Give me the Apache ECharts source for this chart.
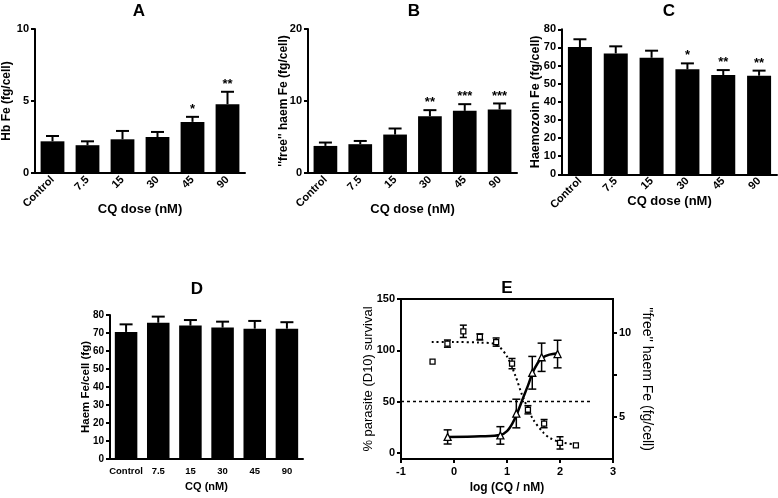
<!DOCTYPE html>
<html><head><meta charset="utf-8">
<script src="https://cdn.jsdelivr.net/npm/echarts@6/dist/echarts.min.js"></script>
<style>html,body{margin:0;padding:0;background:#fff}#c{width:778px;height:498px}</style>
</head><body><div id="c"></div>
<script>
// ---------- data ----------
const doseCategories = ['Control', '7.5', '15', '30', '45', '90'];

// Panel A: Hb Fe (fg/cell)
const hbFe      = [2.2, 1.93, 2.34, 2.5, 3.55, 4.78];
const hbFeErr   = [0.37, 0.27, 0.58, 0.35, 0.35, 0.86];
const hbFeSig   = ['', '', '', '', '*', '**'];

// Panel B: "free" haem Fe (fg/cell)
const freeHaem    = [3.76, 4.0, 5.34, 7.89, 8.63, 8.82];
const freeHaemErr = [0.47, 0.45, 0.84, 0.84, 0.93, 0.84];
const freeHaemSig = ['', '', '', '**', '***', '***'];

// Panel C: Haemozoin Fe (fg/cell)
const haemozoin    = [70.2, 66.7, 64.3, 57.9, 54.8, 54.4];
const haemozoinErr = [4.3, 3.9, 3.9, 3.3, 2.7, 2.8];
const haemozoinSig = ['', '', '', '*', '**', '**'];

// Panel D: Haem Fe/cell (fg)
const totalHaem    = [70.6, 75.7, 74.1, 73.0, 72.4, 72.4];
const totalHaemErr = [4.2, 3.4, 3.1, 3.3, 4.3, 3.6];

// Panel E: parasite survival (left axis)
const survivalLogX = [-0.405, -0.124, 0.176, 0.488, 0.795, 1.095, 1.395, 1.70, 2.0, 2.3];
const survival     = [89, 106.5, 118.5, 113, 108, 87, 42, 28.5, 9.7, 7.2];
const survivalErr  = [0, 3.5, 6, 3, 4, 5, 4, 4, 6, 0];
const survivalFitX = [-0.42, 0.0, 0.5, 0.8, 1.0, 1.16, 1.28, 1.38, 1.5, 1.69, 1.81, 2.0, 2.3];
const survivalFitY = [108, 108, 107.5, 105.5, 94, 75, 57, 45, 32, 19.5, 14.5, 10.5, 8];
const ic50Line     = [[-1, 50], [2.6, 50]];

// Panel E: "free" haem Fe (right axis)
const haemLogX = [-0.12, 0.875, 1.176, 1.477, 1.653, 1.954];
const haemE    = [3.81, 3.9, 5.2, 7.62, 8.54, 8.73];
const haemEErr = [0.42, 0.52, 0.85, 0.97, 0.84, 0.82];
const haemFitX = [-0.12, 0.5, 0.875, 1.0, 1.1, 1.19, 1.3, 1.4, 1.48, 1.58, 1.66, 1.8, 1.96];
const haemFitY = [3.8, 3.85, 3.92, 4.15, 4.6, 5.2, 6.1, 6.9, 7.6, 8.2, 8.5, 8.7, 8.78];

// ---------- chart ----------
const FONT = "'Liberation Sans', Arial, sans-serif";
const chart = echarts.init(document.getElementById('c'), null, {renderer: 'canvas'});

function catAxis(g, labelRotate, fontSize) {
  return {
    type: 'category', gridIndex: g, data: doseCategories,
    axisLine: {lineStyle: {color: '#000', width: 2}},
    axisTick: {show: false},
    axisLabel: {interval: 0, rotate: labelRotate, margin: labelRotate ? 5 : 7, color: '#000',
      fontWeight: 'bold', fontSize: fontSize, fontFamily: FONT},
    splitLine: {show: false}
  };
}
function valAxis(g, max, interval, name, nameGap, nameSize, labelSize) {
  return {
    type: 'value', gridIndex: g, min: 0, max: max, interval: interval,
    name: name, nameLocation: 'middle', nameGap: nameGap, nameMoveOverlap: false,
    nameTextStyle: {color: '#000', fontWeight: 'bold', fontSize: nameSize, fontFamily: FONT},
    axisLine: {show: true, lineStyle: {color: '#000', width: 2}},
    axisTick: {show: true, length: 4, lineStyle: {color: '#000', width: 2}},
    axisLabel: {margin: 6, color: '#000', fontWeight: 'bold', fontSize: labelSize, fontFamily: FONT},
    splitLine: {show: false}
  };
}
function xName(name, gap, size) {
  return {name: name, nameLocation: 'middle', nameGap: gap, nameMoveOverlap: false,
    nameTextStyle: {color: '#000', fontWeight: 'bold', fontSize: size, fontFamily: FONT}};
}
function barSeries(g, vals, bw) {
  return {type: 'bar', xAxisIndex: g, yAxisIndex: g, data: vals, barWidth: bw,
    itemStyle: {color: '#000'}, silent: true};
}
function barErr(g, vals, errs, sigs) {
  return {
    type: 'custom', xAxisIndex: g, yAxisIndex: g, z: 10, silent: true,
    data: vals.map((v, i) => [i, v, errs[i]]),
    renderItem: function (params, api) {
      const i = api.value(0), m = api.value(1), e = api.value(2);
      const p0 = api.coord([i, m]), p1 = api.coord([i, m + e]);
      const ch = [
        {type: 'line', shape: {x1: p0[0], y1: p0[1], x2: p1[0], y2: p1[1]}, style: {stroke: '#000', lineWidth: 2}},
        {type: 'line', shape: {x1: p1[0] - 6.5, y1: p1[1], x2: p1[0] + 6.5, y2: p1[1]}, style: {stroke: '#000', lineWidth: 2}}
      ];
      const s = sigs ? sigs[params.dataIndex] : '';
      if (s) ch.push({type: 'text', style: {text: s, x: p1[0], y: p1[1] - 1, align: 'center', verticalAlign: 'bottom',
        font: 'bold 13px ' + FONT, fill: '#000'}});
      return {type: 'group', children: ch};
    }
  };
}
function ptErr(yIdx, xs, ys, es, cap) {
  return {
    type: 'custom', xAxisIndex: 4, yAxisIndex: yIdx, z: 8, silent: true,
    data: xs.map((x, i) => [x, ys[i], es[i]]),
    renderItem: function (params, api) {
      const x = api.value(0), m = api.value(1), e = api.value(2);
      if (!e) return {type: 'group', children: []};
      const a = api.coord([x, m - e]), b = api.coord([x, m + e]);
      return {type: 'group', children: [
        {type: 'line', shape: {x1: a[0], y1: a[1], x2: b[0], y2: b[1]}, style: {stroke: '#000', lineWidth: 1.5}},
        {type: 'line', shape: {x1: a[0] - cap, y1: a[1], x2: a[0] + cap, y2: a[1]}, style: {stroke: '#000', lineWidth: 1.5}},
        {type: 'line', shape: {x1: b[0] - cap, y1: b[1], x2: b[0] + cap, y2: b[1]}, style: {stroke: '#000', lineWidth: 1.5}}
      ]};
    }
  };
}
const zip = (a, b) => a.map((v, i) => [v, b[i]]);

function panelTitle(t, x, y) {
  return {type: 'text', x: x, y: y, style: {text: t, align: 'center', verticalAlign: 'middle',
    font: 'bold 17px ' + FONT, fill: '#000'}};
}

const option = {
  backgroundColor: '#fff',
  animation: false,
  graphic: [
    panelTitle('A', 139, 11), panelTitle('B', 414, 11), panelTitle('C', 669, 11),
    panelTitle('D', 197, 289), panelTitle('E', 507, 288)
  ],
  grid: [
    {left: 35, top: 29, width: 210, height: 144},
    {left: 308, top: 29, width: 209, height: 144},
    {left: 562, top: 29.3, width: 215, height: 145},
    {left: 110, top: 315, width: 193, height: 144},
    {left: 401, top: 299, width: 212, height: 160, show: true, borderColor: '#000', borderWidth: 2, backgroundColor: 'transparent'}
  ],
  xAxis: [
    Object.assign(catAxis(0, 45, 11), xName('CQ dose (nM)', 30, 13)),
    Object.assign(catAxis(1, 45, 11), xName('CQ dose (nM)', 30, 13)),
    Object.assign(catAxis(2, 45, 11), xName('CQ dose (nM)', 21, 13)),
    Object.assign(catAxis(3, 0, 9.5), xName('CQ (nM)', 22, 11)),
    Object.assign({
      type: 'value', gridIndex: 4, min: -1, max: 3, interval: 1,
      axisLine: {onZero: false, lineStyle: {color: '#000', width: 2}},
      axisTick: {length: 4, lineStyle: {color: '#000', width: 2}},
      axisLabel: {margin: 7, color: '#000', fontWeight: 'bold', fontSize: 11, fontFamily: FONT},
      splitLine: {show: false}
    }, xName('log (CQ / nM)', 23, 12))
  ],
  yAxis: [
    valAxis(0, 10, 5, 'Hb Fe (fg/cell)', 22, 12, 11),
    valAxis(1, 20, 10, "''free'' haem Fe (fg/cell)", 18, 12, 11),
    valAxis(2, 80, 10, 'Haemozoin Fe (fg/cell)', 20, 12.5, 11),
    valAxis(3, 80, 10, 'Haem Fe/cell (fg)', 18, 11.5, 10),
    {
      type: 'value', gridIndex: 4, min: -6, max: 150,
      name: '% parasite (D10) survival', nameLocation: 'middle', nameGap: 26, nameMoveOverlap: false,
      nameTextStyle: {color: '#000', fontSize: 13, fontFamily: FONT},
      axisLine: {show: true, onZero: false, lineStyle: {color: '#000', width: 2}},
      axisTick: {show: true, length: 4, lineStyle: {color: '#000', width: 2}, customValues: [0, 50, 100, 150]},
      axisLabel: {margin: 6, color: '#000', fontWeight: 'bold', fontSize: 11, fontFamily: FONT, customValues: [0, 50, 100, 150]},
      splitLine: {show: false}
    },
    {
      type: 'value', gridIndex: 4, position: 'right', min: 2.5, max: 12,
      name: "''free'' haem Fe (fg/cell)", nameLocation: 'middle', nameGap: 27, nameRotate: -90, nameMoveOverlap: false,
      nameTextStyle: {color: '#000', fontSize: 14, fontFamily: FONT},
      axisLine: {show: true, onZero: false, lineStyle: {color: '#000', width: 2}},
      axisTick: {show: true, length: 4, lineStyle: {color: '#000', width: 2}, customValues: [5, 7.5, 10]},
      axisLabel: {margin: 6, color: '#000', fontWeight: 'bold', fontSize: 11, fontFamily: FONT, customValues: [5, 10]},
      splitLine: {show: false}
    }
  ],
  series: [
    barSeries(0, hbFe, '68%'), barErr(0, hbFe, hbFeErr, hbFeSig),
    barSeries(1, freeHaem, '68%'), barErr(1, freeHaem, freeHaemErr, freeHaemSig),
    barSeries(2, haemozoin, '67%'), barErr(2, haemozoin, haemozoinErr, haemozoinSig),
    barSeries(3, totalHaem, '70%'), barErr(3, totalHaem, totalHaemErr, null),
    {type: 'line', xAxisIndex: 4, yAxisIndex: 4, data: ic50Line, symbol: 'none', silent: true,
      lineStyle: {color: '#000', width: 1.5, type: [3, 3]}},
    {type: 'line', xAxisIndex: 4, yAxisIndex: 4, data: zip(survivalFitX, survivalFitY), symbol: 'none', smooth: 0.3, silent: true,
      lineStyle: {color: '#000', width: 2, type: [2, 3]}},
    {type: 'line', xAxisIndex: 4, yAxisIndex: 5, data: zip(haemFitX, haemFitY), symbol: 'none', smooth: 0.3, silent: true,
      lineStyle: {color: '#000', width: 2.5}},
    ptErr(4, survivalLogX, survival, survivalErr, 3.5),
    ptErr(5, haemLogX, haemE, haemEErr, 4),
    {type: 'scatter', xAxisIndex: 4, yAxisIndex: 4, data: zip(survivalLogX, survival), symbol: 'rect', symbolSize: 5, z: 12,
      itemStyle: {color: '#fff', borderColor: '#000', borderWidth: 1.3, opacity: 1}, silent: true},
    {type: 'scatter', xAxisIndex: 4, yAxisIndex: 5, data: zip(haemLogX, haemE), symbol: 'triangle', symbolSize: 7, z: 12,
      itemStyle: {color: '#fff', borderColor: '#000', borderWidth: 1.3, opacity: 1}, silent: true}
  ]
};
chart.setOption(option);
</script></body></html>
